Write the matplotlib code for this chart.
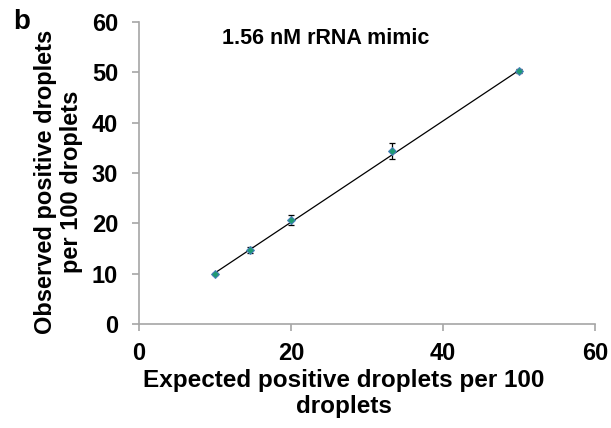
import matplotlib
matplotlib.use("Agg")
import matplotlib.pyplot as plt
import numpy as np

plt.rcParams['font.family'] = ['Liberation Sans', 'DejaVu Sans']

expected = [10, 14.6, 20, 33.3, 50]
observed = [10.0, 14.7, 20.7, 34.3, 50.3]
errors = [0.2, 0.5, 1.0, 1.6, 0.4]
fit_x = [10, 50]
slope, intercept = 1.006, 0.1

fig = plt.figure(figsize=(6.11, 4.28), dpi=100)
ax = fig.add_axes([139/611, 1-324/428, (595-139)/611, (324-22)/428])

fx = np.array(fit_x)
ax.plot(fx, slope*fx + intercept, color='black', lw=0.9, zorder=2)
ax.errorbar(expected, observed, yerr=errors, fmt='none', ecolor='black',
            elinewidth=0.9, capsize=2.5, capthick=0.9, zorder=3)
ax.plot(expected, observed, linestyle='none', marker='D', markersize=4,
        markerfacecolor='#1f9a72', markeredgecolor='#4a7ec0', markeredgewidth=0.7, zorder=4)

ax.set_xlim(0, 60)
ax.set_ylim(0, 60)
ax.set_xticks([0, 20, 40, 60])
ax.set_yticks([0, 10, 20, 30, 40, 50, 60])
for s in ['top', 'right']:
    ax.spines[s].set_visible(False)
for s in ['left', 'bottom']:
    ax.spines[s].set_color('#a6a6a6')
    ax.spines[s].set_linewidth(1.2)
ax.tick_params(axis='both', colors='#a6a6a6', length=5, width=1.2,
               labelsize=17, labelcolor='black')
ax.tick_params(axis='y', pad=10)
ax.tick_params(axis='x', pad=8)
for lab in ax.get_xticklabels() + ax.get_yticklabels():
    lab.set_fontweight('bold')

ax.set_xlabel('Expected positive droplets per 100\ndroplets', fontsize=17.5,
              fontweight='bold', linespacing=1.2)
ax.xaxis.set_label_coords(0.449, -0.148)
ax.set_ylabel('Observed positive droplets\nper 100 droplets', fontsize=17,
              fontweight='bold', linespacing=1.18)
ax.yaxis.set_label_coords(-0.123, 0.47)
ax.text(0.41, 0.947, '1.56 nM rRNA mimic', transform=ax.transAxes, ha='center',
        va='center', fontsize=15.5, fontweight='bold')
fig.text(22/611, 1-22/428, 'b', fontsize=20, fontweight='bold', ha='center', va='center')

fig.savefig('out.png', dpi=100)
